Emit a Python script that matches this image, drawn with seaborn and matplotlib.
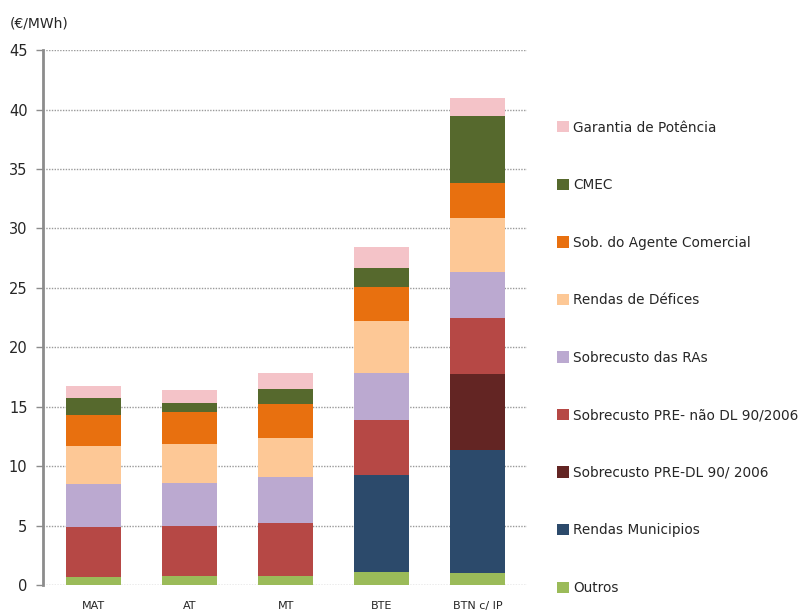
import numpy as np
import pandas as pd
import matplotlib
matplotlib.use("Agg")
import matplotlib.pyplot as plt
from matplotlib.patches import Patch
import seaborn as sns

# categorias (níveis de tensão)
categories = ["MAT", "AT", "MT", "BTE", "BTN c/ IP"]

# componentes, de baixo para cima
outros = [0.7, 0.8, 0.8, 1.07, 0.98]
rendas_municipios = [0.0, 0.0, 0.0, 8.18, 10.36]
pre_dl = [0.0, 0.0, 0.0, 0.0, 6.45]
pre_nao_dl = [4.2, 4.2, 4.44, 4.63, 4.67]
sobrecusto_ras = [3.6, 3.6, 3.82, 3.98, 3.87]
rendas_defices = [3.2, 3.26, 3.28, 4.37, 4.54]
sob_agente = [2.6, 2.72, 2.86, 2.81, 2.97]
cmec = [1.45, 0.7, 1.26, 1.66, 5.66]
garantia = [1.0, 1.12, 1.4, 1.7, 1.48]

series_names = ["Outros", "Rendas Municipios", "Sobrecusto PRE-DL 90/ 2006",
                "Sobrecusto PRE- não DL 90/2006", "Sobrecusto das RAs",
                "Rendas de Défices", "Sob. do Agente Comercial", "CMEC",
                "Garantia de Potência"]
series_values = [outros, rendas_municipios, pre_dl, pre_nao_dl, sobrecusto_ras,
                 rendas_defices, sob_agente, cmec, garantia]
colors = ["#9BBB59", "#2C4A6B", "#632523", "#B64845", "#BBA9D0",
          "#FDC896", "#E8700F", "#56692D", "#F4C3C8"]

df = pd.DataFrame(dict(zip(series_names, series_values)), index=categories)
cum = df.cumsum(axis=1)

sns.set_style("white")
plt.rcParams["font.family"] = ["DejaVu Sans"]

fig = plt.figure(figsize=(8.08, 6.12), dpi=100)
ax = fig.add_axes([0.053, 0.044, 0.599, 0.874])

# barras empilhadas: desenhar totais acumulados do topo para a base
for name, color in zip(reversed(series_names), reversed(colors)):
    sns.barplot(x=categories, y=cum[name].values, color=color, width=0.57,
                saturation=1, linewidth=0, edgecolor="none", ax=ax, zorder=3)

ax.set_xlim(-0.53, 4.51)
ax.set_ylim(0, 45)
ax.set_yticks(np.arange(0, 46, 5))
ax.yaxis.grid(True, linestyle=(0, (1, 1)), color="#9a9a9a", linewidth=1, zorder=0)
ax.set_axisbelow(True)
for s in ["top", "right", "bottom"]:
    ax.spines[s].set_visible(False)
ax.spines["left"].set_color("#8c8c8c")
ax.spines["left"].set_linewidth(2)
ax.tick_params(axis="y", left=True, length=5, width=1, color="#8c8c8c",
               labelsize=10.5, pad=6)
ax.tick_params(axis="x", bottom=False, labelsize=8, pad=8)
ax.set_xlabel("")
ax.set_ylabel("")

fig.text(0.012, 0.962, "(€/MWh)", fontsize=10, ha="left", va="center")

handles = [Patch(facecolor=c, edgecolor="none") for c in reversed(colors)]
fig.legend(handles, list(reversed(series_names)), loc="upper left",
           bbox_to_anchor=(0.682, 0.812), frameon=False, fontsize=9.8,
           labelspacing=3.2, handlelength=0.9, handleheight=0.9,
           handletextpad=0.3, borderaxespad=0)

fig.savefig("out.png", dpi=100)
